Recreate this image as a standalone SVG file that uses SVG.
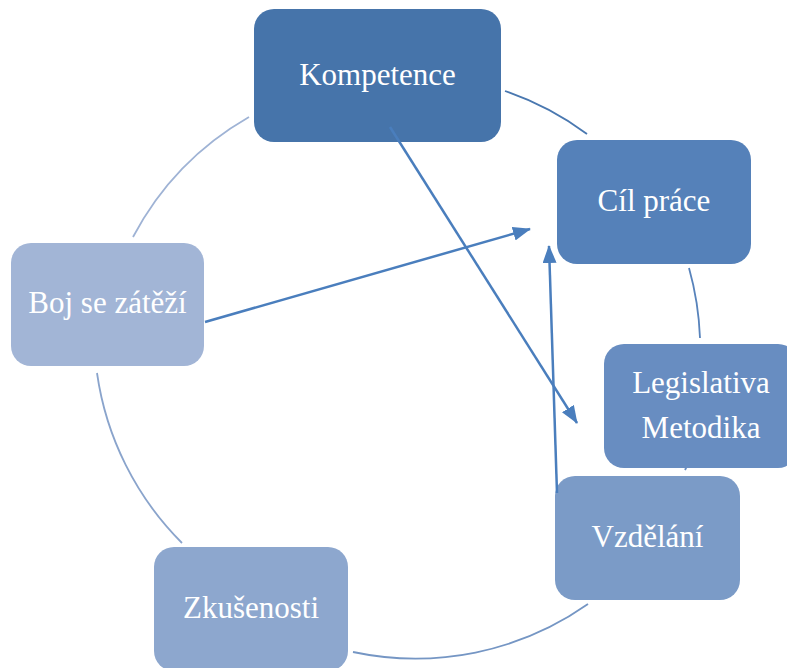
<svg xmlns="http://www.w3.org/2000/svg" width="787" height="668" viewBox="0 0 787 668">
  <defs>
    <marker id="ah" markerUnits="userSpaceOnUse" markerWidth="18" markerHeight="14" refX="17" refY="7" orient="auto">
      <path d="M0,0 L18,7 L0,14 Z" fill="#4A7EBD"/>
    </marker>
    <style>
      .box { stroke: none; }
      .lbl { font-family: "Liberation Serif", "Times New Roman", serif; font-size: 31px; fill: #FFFFFF; text-anchor: middle; }
      .arc { fill: none; stroke-width: 1.8; }
      .conn { fill: none; stroke: #4A7EBD; stroke-width: 2.5; marker-end: url(#ah); }
    </style>
  </defs>
  <rect width="787" height="668" fill="#FFFFFF"/>

  <g id="cycle-arcs">
    <path class="arc" stroke="#4A78B0" d="M505,91 A300,300 0 0 1 587,134"/>
    <path class="arc" stroke="#5883BB" d="M689,268 A300,300 0 0 1 700,338"/>
    <path class="arc" stroke="#6A8EC1" d="M687,466 A300,300 0 0 1 685,470"/>
    <path class="arc" stroke="#7596C4" d="M588,604 A300,300 0 0 1 353,652"/>
    <path class="arc" stroke="#8AA4CC" d="M182,543 A300,300 0 0 1 97,373"/>
    <path class="arc" stroke="#9FB3D5" d="M133,237 A300,300 0 0 1 249,117"/>
  </g>

  <g id="node-kompetence">
    <rect class="box" x="254" y="9" width="247" height="133" rx="20" fill="#4674AA"/>
    <text class="lbl" x="377.5" y="85">Kompetence</text>
  </g>
  <g id="node-cil-prace">
    <rect class="box" x="557" y="140" width="194" height="124" rx="20" fill="#5581B9"/>
    <text class="lbl" x="654" y="211">Cíl práce</text>
  </g>
  <g id="node-legislativa-metodika">
    <rect class="box" x="604" y="344" width="194" height="124" rx="20" fill="#688DC1"/>
    <text class="lbl" x="701" y="393">Legislativa</text>
    <text class="lbl" x="701" y="438">Metodika</text>
  </g>
  <g id="node-vzdelani">
    <rect class="box" x="555" y="476" width="185" height="124" rx="20" fill="#7B9BC7"/>
    <text class="lbl" x="647.5" y="547">Vzdělání</text>
  </g>
  <g id="node-zkusenosti">
    <rect class="box" x="154" y="547" width="194" height="124" rx="20" fill="#8DA7CE"/>
    <text class="lbl" x="251" y="618">Zkušenosti</text>
  </g>
  <g id="node-boj">
    <rect class="box" x="11" y="243" width="193" height="123" rx="20" fill="#A2B5D6"/>
    <text class="lbl" x="107.5" y="313">Boj se zátěží</text>
  </g>

  <g id="connectors">
    <line class="conn" x1="390" y1="127" x2="577" y2="423"/>
    <line class="conn" x1="205" y1="322" x2="530" y2="229"/>
    <line class="conn" x1="557" y1="493" x2="549" y2="246"/>
  </g>
</svg>
